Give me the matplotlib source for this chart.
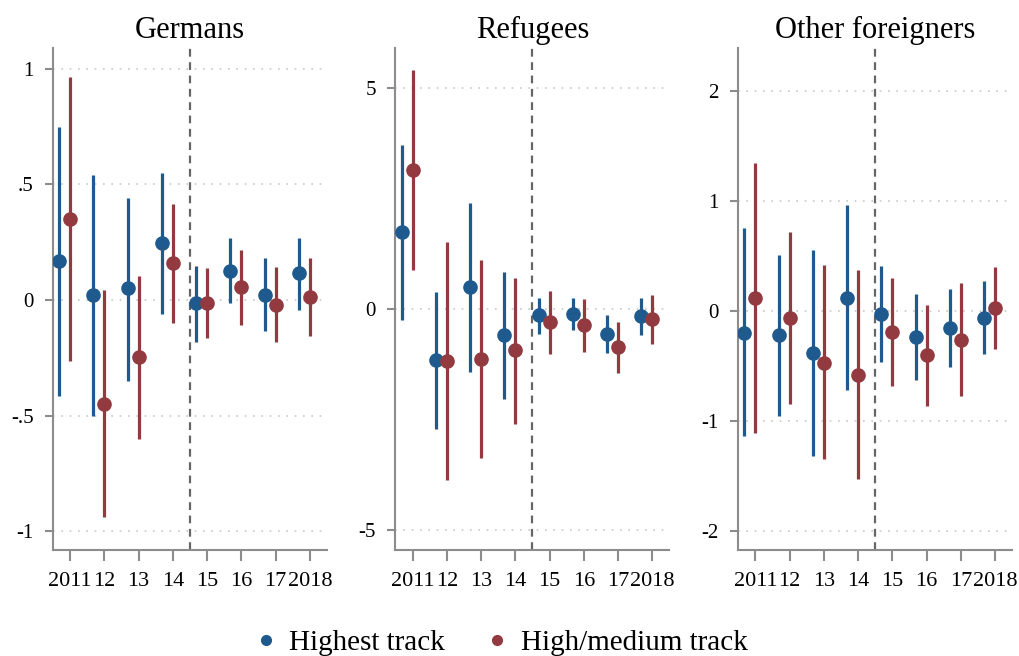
import numpy as np
import matplotlib
matplotlib.use("Agg")
import matplotlib.pyplot as plt
from matplotlib.lines import Line2D

plt.rcParams['font.family'] = ['Liberation Serif', 'DejaVu Serif']

years = [2011, 2012, 2013, 2014, 2015, 2016, 2017, 2018]
year_labels = ['2011', '12', '13', '14', '15', '16', '17', '2018']

# Germans: point estimate, lower and upper bound of CI
ger_top = [0.17, 0.02, 0.05, 0.245, -0.015, 0.125, 0.02, 0.115]
ger_top_lo = [-0.415, -0.50, -0.35, -0.06, -0.18, -0.015, -0.135, -0.045]
ger_top_hi = [0.75, 0.54, 0.44, 0.55, 0.145, 0.27, 0.18, 0.27]
ger_mid = [0.35, -0.45, -0.245, 0.16, -0.015, 0.055, -0.02, 0.013]
ger_mid_lo = [-0.265, -0.94, -0.60, -0.10, -0.165, -0.11, -0.18, -0.155]
ger_mid_hi = [0.965, 0.043, 0.104, 0.415, 0.137, 0.217, 0.142, 0.18]

# Refugees
ref_top = [1.73, -1.17, 0.49, -0.60, -0.15, -0.11, -0.56, -0.17]
ref_top_lo = [-0.26, -2.73, -1.43, -2.05, -0.56, -0.48, -0.99, -0.59]
ref_top_hi = [3.70, 0.38, 2.40, 0.83, 0.25, 0.25, -0.15, 0.25]
ref_mid = [3.13, -1.18, -1.13, -0.94, -0.31, -0.37, -0.86, -0.23]
ref_mid_lo = [0.87, -3.88, -3.37, -2.60, -1.03, -0.97, -1.45, -0.79]
ref_mid_hi = [5.40, 1.52, 1.11, 0.70, 0.41, 0.23, -0.29, 0.32]

# Other foreigners
oth_top = [-0.20, -0.22, -0.385, 0.12, -0.03, -0.24, -0.155, -0.066]
oth_top_lo = [-1.14, -0.956, -1.32, -0.72, -0.46, -0.63, -0.51, -0.39]
oth_top_hi = [0.75, 0.51, 0.55, 0.96, 0.41, 0.155, 0.20, 0.27]
oth_mid = [0.12, -0.066, -0.47, -0.58, -0.19, -0.40, -0.26, 0.025]
oth_mid_lo = [-1.11, -0.843, -1.35, -1.53, -0.68, -0.865, -0.77, -0.35]
oth_mid_hi = [1.345, 0.714, 0.42, 0.37, 0.30, 0.055, 0.255, 0.40]

BLUE = '#1f5a8e'
RED = '#923a40'
AXCOL = '#8c8c8c'

panels = [
    ('Germans', (ger_top, ger_top_lo, ger_top_hi), (ger_mid, ger_mid_lo, ger_mid_hi),
     (-1.08, 1.09), [-1, -0.5, 0, 0.5, 1], ['-1', '-.5', '0', '.5', '1']),
    ('Refugees', (ref_top, ref_top_lo, ref_top_hi), (ref_mid, ref_mid_lo, ref_mid_hi),
     (-5.45, 5.9), [-5, 0, 5], ['-5', '0', '5']),
    ('Other foreigners', (oth_top, oth_top_lo, oth_top_hi), (oth_mid, oth_mid_lo, oth_mid_hi),
     (-2.17, 2.39), [-2, -1, 0, 1, 2], ['-2', '-1', '0', '1', '2']),
]

lefts = [0.052, 0.388, 0.7245]
width = 0.269
bottom = 0.162
height = 0.765

fig = plt.figure(figsize=(10.19, 6.56), dpi=100)
x = np.array(years, dtype=float)

for left, (title, top, mid, ylim, yt, ytl) in zip(lefts, panels):
    ax = fig.add_axes([left, bottom, width, height])
    for (est, lo, hi), shift, col in ((top, -0.32, BLUE), (mid, 0.0, RED)):
        est = np.array(est)
        err = [est - np.array(lo), np.array(hi) - est]
        ax.errorbar(x + shift, est, yerr=err, fmt='o', color=col, ecolor=col,
                    elinewidth=2.3, markersize=9.5, capsize=0, zorder=3)
    ax.axvline(2014.5, color='#666666', lw=1.6, ls=(0, (3.5, 2.5)), zorder=2)
    ax.set_xlim(2010.5, 2018.5)
    ax.set_ylim(*ylim)
    ax.set_yticks(yt)
    ax.set_yticklabels(ytl)
    ax.set_xticks(years)
    ax.set_xticklabels(year_labels)
    ax.yaxis.grid(True, color='#c8c8c8', ls=(0, (1, 4)), lw=1.2)
    ax.set_axisbelow(True)
    for s in ('top', 'right'):
        ax.spines[s].set_visible(False)
    for s in ('left', 'bottom'):
        ax.spines[s].set_color(AXCOL)
        ax.spines[s].set_linewidth(1.5)
    ax.tick_params(axis='y', colors=AXCOL, labelcolor='black', length=6, width=1.5,
                   labelsize=15, pad=8)
    ax.tick_params(axis='x', colors=AXCOL, labelcolor='black', length=8, width=1.5,
                   labelsize=16, pad=8)
    ax.set_title(title, fontsize=22, pad=7)

handles = [Line2D([], [], ls='none', marker='o', color=BLUE, markersize=7),
           Line2D([], [], ls='none', marker='o', color=RED, markersize=7)]
fig.legend(handles, ['Highest track', 'High/medium track'], loc='lower center',
           bbox_to_anchor=(0.49, -0.04), ncol=2, frameon=False, fontsize=21,
           handletextpad=0.3, columnspacing=1.3, handlelength=1.0)

fig.savefig('out.png', dpi=100)
